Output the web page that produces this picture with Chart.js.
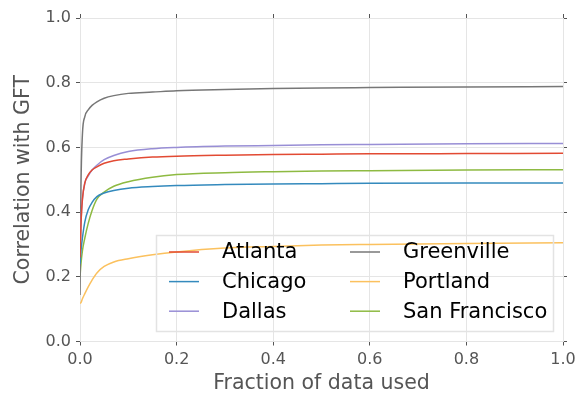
<!DOCTYPE html>
<html>
<head>
<meta charset="utf-8">
<script src="https://cdn.jsdelivr.net/npm/chart.js@4/dist/chart.umd.min.js"></script>
<style>
  html, body { margin: 0; padding: 0; background: #fff; }
  #wrap { width: 582px; height: 396px; }
</style>
</head>
<body>
<div id="wrap"><canvas id="chart" width="582" height="396"></canvas></div>
<script>
// fraction of data used (shared x samples)
const fracs = [0, 0.002, 0.005, 0.01, 0.017, 0.025, 0.035, 0.05, 0.07, 0.1, 0.15, 0.2, 0.3, 0.4, 0.5, 0.6, 0.8, 1.0];

const cities = ['Atlanta', 'Chicago', 'Dallas', 'Greenville', 'Portland', 'San Francisco'];
const cityColors = ['#E24A33', '#348ABD', '#988ED5', '#777777', '#FBC15E', '#8EBA42'];

const atlanta      = [0.26, 0.36, 0.44, 0.49, 0.515, 0.53, 0.54, 0.551, 0.559, 0.564, 0.570, 0.573, 0.576, 0.578, 0.579, 0.580, 0.581, 0.582];
const chicago      = [0.24, 0.28, 0.32, 0.37, 0.407, 0.43, 0.448, 0.459, 0.467, 0.474, 0.479, 0.482, 0.485, 0.487, 0.488, 0.489, 0.490, 0.490];
const dallas       = [0.28, 0.37, 0.44, 0.49, 0.512, 0.53, 0.545, 0.562, 0.575, 0.587, 0.596, 0.600, 0.604, 0.606, 0.608, 0.609, 0.611, 0.612];
const greenville   = [0.144, 0.48, 0.64, 0.695, 0.716, 0.73, 0.741, 0.752, 0.760, 0.767, 0.771, 0.775, 0.779, 0.782, 0.784, 0.785, 0.787, 0.788];
const portland     = [0.118, 0.12, 0.132, 0.148, 0.169, 0.19, 0.212, 0.232, 0.246, 0.256, 0.268, 0.277, 0.289, 0.294, 0.298, 0.300, 0.303, 0.305];
const sanFrancisco = [0.20, 0.24, 0.28, 0.32, 0.365, 0.405, 0.44, 0.462, 0.48, 0.494, 0.508, 0.516, 0.522, 0.525, 0.527, 0.528, 0.530, 0.531];

const series = [atlanta, chicago, dallas, greenville, portland, sanFrancisco];

const gridC = '#e5e5e5', tickC = '#555', textC = '#555';
const FONT = 'DejaVu Sans';

// legend in two columns, three rows, drawn inside the plot
const boxLegend = {
  id: 'boxLegend',
  afterDatasetsDraw(chart) {
    const ctx = chart.ctx, a = chart.chartArea;
    const bx = a.left + 76, by = a.top + 217, bw = 397, bh = 96;
    ctx.save();
    ctx.strokeStyle = '#e3e3e3';
    ctx.lineWidth = 1.5;
    ctx.strokeRect(bx + 0.5, by + 0.5, bw, bh);
    ctx.font = '21px ' + FONT;
    ctx.textBaseline = 'middle';
    ctx.fillStyle = '#000';
    chart.data.datasets.forEach((ds, i) => {
      const col = Math.floor(i / 3), row = i % 3;
      const lx = bx + 13 + col * 181;
      const ly = by + 17 + row * 29.6;
      ctx.strokeStyle = ds.borderColor;
      ctx.lineWidth = 1.5;
      ctx.beginPath();
      ctx.moveTo(lx, ly);
      ctx.lineTo(lx + 30, ly);
      ctx.stroke();
      ctx.fillText(ds.label, lx + 53, ly + 1);
    });
    ctx.restore();
  }
};

const tickFmt = v => Number(v).toFixed(1);

new Chart(document.getElementById('chart'), {
  type: 'line',
  data: {
    datasets: cities.map((name, i) => ({
      label: name,
      data: fracs.map((f, j) => ({ x: f, y: series[i][j] })),
      borderColor: cityColors[i],
      backgroundColor: cityColors[i],
      borderWidth: 1.5,
      pointRadius: 0,
      fill: false,
      cubicInterpolationMode: 'monotone',
      xAxisID: 'x',
      yAxisID: 'y'
    }))
  },
  options: {
    responsive: false,
    animation: false,
    devicePixelRatio: 1,
    layout: { padding: 0 },
    plugins: { legend: { display: false }, tooltip: { enabled: false } },
    scales: {
      x: {
        type: 'linear', position: 'bottom', min: 0, max: 1,
        ticks: { stepSize: 0.2, callback: tickFmt, color: textC, font: { size: 16, family: FONT }, padding: 5, maxRotation: 0 },
        grid: { color: gridC, tickColor: tickC, tickLength: 4, lineWidth: 1 },
        border: { color: gridC },
        title: { display: true, text: 'Fraction of data used', color: textC, font: { size: 20.5, family: FONT }, padding: { top: 0, bottom: 0 } },
        afterFit: s => { s.height = 54.5; }
      },
      x2: {
        type: 'linear', position: 'top', min: 0, max: 1,
        ticks: { display: false, stepSize: 0.2 },
        grid: { drawOnChartArea: false, tickColor: tickC, tickLength: 4, color: gridC },
        border: { color: gridC },
        afterFit: s => { s.height = 18; }
      },
      y: {
        type: 'linear', position: 'left', min: 0, max: 1,
        ticks: { stepSize: 0.2, callback: tickFmt, color: textC, font: { size: 16, family: FONT }, padding: 5 },
        grid: { color: gridC, tickColor: tickC, tickLength: 4, lineWidth: 1 },
        border: { color: gridC },
        title: { display: true, text: 'Correlation with GFT', color: textC, font: { size: 20.5, family: FONT }, padding: { top: 11, bottom: 0 } },
        afterFit: s => { s.width = 80; }
      },
      y2: {
        type: 'linear', position: 'right', min: 0, max: 1,
        ticks: { display: false, stepSize: 0.2 },
        grid: { drawOnChartArea: false, tickColor: tickC, tickLength: 4, color: gridC },
        border: { color: gridC },
        afterFit: s => { s.width = 19; }
      }
    }
  },
  plugins: [boxLegend]
});
</script>
</body>
</html>
